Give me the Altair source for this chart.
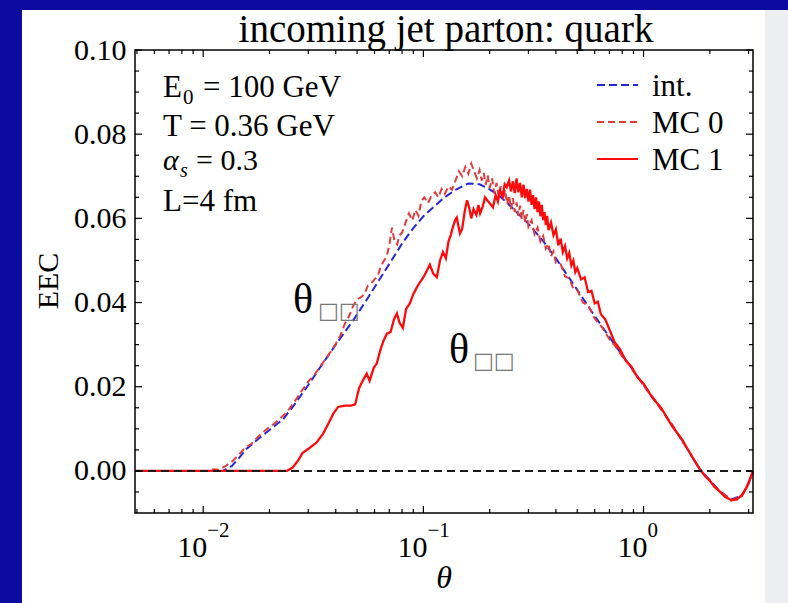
import altair as alt
import pandas as pd

# ---------------- data ----------------
title_text = "incoming jet parton: quark"
x_title = "θ"
y_title = "EEC"
series_names = ["int.", "MC 0", "MC 1"]

int_points = [
    (0.0049, 0.0), (0.0123, 0.0), (0.0135, 0.0012), (0.0145, 0.0030), (0.0157, 0.0052),
    (0.018, 0.0078), (0.02, 0.0097), (0.0231, 0.0123), (0.026, 0.0158), (0.03, 0.0204),
    (0.035, 0.0256), (0.04, 0.0300), (0.0479, 0.0357), (0.055, 0.0405), (0.065, 0.0465),
    (0.0807, 0.0543), (0.09, 0.0577), (0.1, 0.0605), (0.1228, 0.0647), (0.14, 0.0668),
    (0.16, 0.0683), (0.18, 0.0681), (0.2, 0.0669), (0.223, 0.0652), (0.25, 0.0628),
    (0.3, 0.0587), (0.35, 0.0546), (0.4, 0.0505), (0.5, 0.0430), (0.6, 0.0368),
    (0.7, 0.0318), (0.8, 0.0275), (0.9, 0.0238), (1.0, 0.0204), (1.2, 0.0148),
    (1.5, 0.0072), (1.8, 0.0004), (2.0, -0.0022), (2.2, -0.0046), (2.5, -0.0068),
    (2.8, -0.0058), (3.0, -0.0030), (3.1416, 0.0),
]

mc0_points = [
    (0.0049, 0.0), (0.0105, 0.0), (0.0112, 0.0004), (0.0118, 0.0003), (0.0125, 0.0010),
    (0.0135, 0.0022), (0.0145, 0.0038), (0.0155, 0.0055), (0.0165, 0.0064), (0.018, 0.0084),
    (0.0195, 0.0100), (0.021, 0.0112), (0.0225, 0.0126), (0.024, 0.0140), (0.026, 0.0165),
    (0.028, 0.0190), (0.030, 0.0212), (0.032, 0.0228), (0.034, 0.0248), (0.036, 0.0266),
    (0.038, 0.0284), (0.040, 0.0302), (0.042, 0.0322), (0.044, 0.0350), (0.046, 0.0368),
    (0.048, 0.0392), (0.050, 0.0408), (0.052, 0.0412), (0.054, 0.0420), (0.056, 0.0440),
    (0.058, 0.0446), (0.060, 0.0455), (0.062, 0.0462), (0.064, 0.0485), (0.066, 0.0498),
    (0.068, 0.0508), (0.070, 0.0535), (0.072, 0.0578), (0.074, 0.0545), (0.076, 0.0538),
    (0.078, 0.0560), (0.080, 0.0566), (0.083, 0.0590), (0.086, 0.0612), (0.089, 0.0595),
    (0.092, 0.0620), (0.095, 0.0606), (0.098, 0.0642), (0.101, 0.0650), (0.105, 0.0636),
    (0.109, 0.0655), (0.113, 0.0662), (0.117, 0.0650), (0.121, 0.0670), (0.125, 0.0658),
    (0.130, 0.0676), (0.135, 0.0668), (0.140, 0.0690), (0.145, 0.0712), (0.150, 0.0700),
    (0.155, 0.0722), (0.160, 0.0706), (0.165, 0.0730), (0.170, 0.0712), (0.175, 0.0695),
    (0.180, 0.0715), (0.184, 0.0690), (0.188, 0.0708), (0.192, 0.0680), (0.196, 0.0702),
    (0.200, 0.0672), (0.205, 0.0695), (0.210, 0.0660), (0.215, 0.0684), (0.220, 0.0652),
    (0.225, 0.0676), (0.230, 0.0645), (0.235, 0.0668), (0.240, 0.0634), (0.245, 0.0655),
    (0.250, 0.0622), (0.255, 0.0648), (0.260, 0.0615), (0.265, 0.0638), (0.270, 0.0606),
    (0.275, 0.0630), (0.280, 0.0598), (0.285, 0.0620), (0.290, 0.0590), (0.295, 0.0610),
    (0.30, 0.0580), (0.31, 0.0596), (0.32, 0.0562), (0.33, 0.0578), (0.34, 0.0545),
    (0.35, 0.0558), (0.36, 0.0528), (0.37, 0.0540), (0.38, 0.0510), (0.39, 0.0522),
    (0.40, 0.0494), (0.42, 0.0492), (0.44, 0.0462), (0.46, 0.0458), (0.48, 0.0432),
    (0.50, 0.0430), (0.53, 0.0400), (0.56, 0.0394), (0.60, 0.0362), (0.65, 0.0340),
    (0.70, 0.0313), (0.75, 0.0294), (0.80, 0.0272), (0.85, 0.0256), (0.90, 0.0236),
    (0.95, 0.0222), (1.0, 0.0203), (1.1, 0.0176), (1.2, 0.0146), (1.35, 0.0110),
    (1.5, 0.0070), (1.65, 0.0038), (1.8, 0.0002), (1.9, -0.0010), (2.0, -0.0024),
    (2.1, -0.0034), (2.2, -0.0048), (2.35, -0.0058), (2.5, -0.0071), (2.65, -0.0064),
    (2.8, -0.0060), (2.95, -0.0035), (3.05, -0.0019), (3.1416, 0.0),
]

mc1_points = [
    (0.0049, 0.0), (0.024, 0.0), (0.0255, 0.0008), (0.027, 0.0025), (0.0283, 0.0043),
    (0.0305, 0.0055), (0.0328, 0.0068), (0.035, 0.0088), (0.037, 0.0112), (0.039, 0.0136),
    (0.041, 0.0152), (0.044, 0.0155), (0.047, 0.0155), (0.049, 0.0158), (0.051, 0.0196),
    (0.053, 0.0214), (0.0553, 0.0231), (0.057, 0.0214), (0.0595, 0.0245), (0.0614, 0.0255),
    (0.064, 0.0290), (0.066, 0.0310), (0.0683, 0.0326), (0.071, 0.0330), (0.0735, 0.0360),
    (0.0758, 0.0374), (0.078, 0.0352), (0.0807, 0.0340), (0.0835, 0.0385), (0.0868, 0.0398),
    (0.090, 0.0420), (0.0934, 0.0436), (0.097, 0.0450), (0.1005, 0.0462), (0.1038, 0.0476),
    (0.107, 0.0490), (0.111, 0.0468), (0.1151, 0.0460), (0.119, 0.0500), (0.1228, 0.0520),
    (0.1265, 0.0505), (0.130, 0.0545), (0.1335, 0.0562), (0.1361, 0.0579), (0.1395, 0.0596),
    (0.1418, 0.0602), (0.1445, 0.0580), (0.1466, 0.0564), (0.150, 0.0575), (0.1545, 0.0620),
    (0.1579, 0.0643), (0.1615, 0.0625), (0.165, 0.0600), (0.169, 0.0622), (0.174, 0.0608),
    (0.178, 0.0632), (0.181, 0.0612), (0.186, 0.0628), (0.1905, 0.0650), (0.195, 0.0643),
    (0.201, 0.0635), (0.207, 0.0626), (0.213, 0.0655), (0.218, 0.0640), (0.223, 0.0667),
    (0.229, 0.0652), (0.234, 0.0681), (0.239, 0.0674), (0.245, 0.0690), (0.250, 0.0664),
    (0.255, 0.0688), (0.260, 0.0660), (0.265, 0.0695), (0.270, 0.0662), (0.275, 0.0684),
    (0.280, 0.0650), (0.285, 0.0680), (0.290, 0.0648), (0.295, 0.0670), (0.300, 0.0640),
    (0.305, 0.0668), (0.310, 0.0632), (0.315, 0.0655), (0.320, 0.0622), (0.325, 0.0650),
    (0.330, 0.0615), (0.335, 0.0640), (0.340, 0.0605), (0.345, 0.0632), (0.350, 0.0596),
    (0.355, 0.0615), (0.360, 0.0584), (0.365, 0.0606), (0.370, 0.0572), (0.38, 0.0590),
    (0.39, 0.0560), (0.40, 0.0574), (0.41, 0.0536), (0.42, 0.0552), (0.43, 0.0520),
    (0.44, 0.0534), (0.45, 0.0505), (0.46, 0.0518), (0.47, 0.0488), (0.48, 0.0500),
    (0.49, 0.0472), (0.50, 0.0482), (0.52, 0.0455), (0.54, 0.0460), (0.56, 0.0425),
    (0.58, 0.0428), (0.60, 0.0398), (0.62, 0.0402), (0.64, 0.0372), (0.67, 0.0360),
    (0.70, 0.0336), (0.74, 0.0305), (0.78, 0.0290), (0.83, 0.0262), (0.88, 0.0248),
    (0.94, 0.0222), (1.0, 0.0207), (1.1, 0.0173), (1.2, 0.0150), (1.35, 0.0106),
    (1.5, 0.0074), (1.65, 0.0036), (1.8, 0.0005), (1.9, -0.0012), (2.0, -0.0023),
    (2.1, -0.0038), (2.2, -0.0047), (2.35, -0.0062), (2.5, -0.0069), (2.65, -0.0068),
    (2.8, -0.0057), (2.95, -0.0038), (3.05, -0.0018), (3.1416, 0.0),
]

y_major = [0.0, 0.02, 0.04, 0.06, 0.08, 0.10]
y_minor = [-0.005, 0.005, 0.01, 0.015, 0.025, 0.03, 0.035, 0.045, 0.05, 0.055,
           0.065, 0.07, 0.075, 0.085, 0.09, 0.095]
x_major = [0.01, 0.1, 1.0]
x_major_base = ["10", "10", "10"]
x_major_exp = ["−2", "−1", "0"]
x_minor = [0.005, 0.006, 0.007, 0.008, 0.009,
           0.02, 0.03, 0.04, 0.05, 0.06, 0.07, 0.08, 0.09,
           0.2, 0.3, 0.4, 0.5, 0.6, 0.7, 0.8, 0.9, 2.0, 3.0]
zero_level = [0.0]

# ---------------- style ----------------
W, H = 618, 463
PL, PT = 135, 50
FONT = "Liberation Serif"
C_INT, C_MC0, C_MC1 = "#2626d9", "#e33b3b", "#ff0a0a"
D_INT, D_MC0 = [8, 4], [7, 4]

xs = alt.Scale(type="log", domain=[0.0049, 3.1416], nice=False)
ys = alt.Scale(domain=[-0.01, 0.10], nice=False, zero=False)
yax = alt.Axis(values=y_major, format=".2f", labelFont=FONT, labelFontSize=30,
               labelColor="black", ticks=False, domain=False, grid=False,
               title=None, labelPadding=9, zindex=2)

one = pd.DataFrame({"k": [0]})


def box(x1, x2, y1, y2, color):
    return alt.Chart(one).mark_rect(color=color).encode(
        x=alt.value(x1 - PL), x2=alt.value(x2 - PL),
        y=alt.value(y1 - PT), y2=alt.value(y2 - PT))


def line(points, color, dash, width):
    df = pd.DataFrame(points, columns=["theta", "eec"])
    kw = dict(color=color, strokeWidth=width)
    if dash:
        kw["strokeDash"] = dash
    return alt.Chart(df).mark_line(**kw).encode(
        x=alt.X("theta:Q", scale=xs, axis=None),
        y=alt.Y("eec:Q", scale=ys, axis=yax),
        order="theta:Q")


def text(s, x, y, size, **kw):
    opts = dict(font=FONT, color="black", align="left", baseline="alphabetic")
    opts.update(kw)
    return alt.Chart(one).mark_text(text=s, fontSize=size, **opts).encode(
        x=alt.value(x - PL), y=alt.value(y - PT))


layers = []
layers.append(box(22, 765, 10, 603, "white"))
layers.append(box(765, 788, 10, 603, "#eceef1"))

layers.append(line(int_points, C_INT, D_INT, 2))
layers.append(line(mc0_points, C_MC0, D_MC0, 2))
layers.append(line(mc1_points, C_MC1, None, 2.3))

# zero reference line
layers.append(alt.Chart(pd.DataFrame({"z": zero_level})).mark_rule(
    color="#1a1a1a", strokeDash=[8, 5], strokeWidth=2).encode(
    y=alt.Y("z:Q", scale=ys, axis=yax), x=alt.value(0), x2=alt.value(W)))

# frame
layers.append(alt.Chart(one).mark_rect(fill=None, stroke="black", strokeWidth=1.5).encode(
    x=alt.value(0), x2=alt.value(W), y=alt.value(0), y2=alt.value(H)))


def yticks(vals, ln):
    df = pd.DataFrame({"v": vals})
    out = []
    for a, b in [(0, ln), (W, W - ln)]:
        out.append(alt.Chart(df).mark_rule(color="black", strokeWidth=1.2).encode(
            y=alt.Y("v:Q", scale=ys, axis=yax), x=alt.value(a), x2=alt.value(b)))
    return out


def xticks(vals, ln):
    df = pd.DataFrame({"v": vals})
    out = []
    for a, b in [(H, H - ln), (0, ln)]:
        out.append(alt.Chart(df).mark_rule(color="black", strokeWidth=1.2).encode(
            x=alt.X("v:Q", scale=xs, axis=None), y=alt.value(a), y2=alt.value(b)))
    return out


layers += yticks(y_major, 7) + yticks(y_minor, 4)
layers += xticks(x_major, 7) + xticks(x_minor, 4)

# x tick labels: 10^k
xl = pd.DataFrame({"t": x_major, "b": x_major_base, "e": x_major_exp})
layers.append(alt.Chart(xl).mark_text(font=FONT, fontSize=30, align="right",
                                      baseline="alphabetic", dx=4, color="black").encode(
    x=alt.X("t:Q", scale=xs, axis=None), y=alt.value(557 - PT), text="b:N"))
layers.append(alt.Chart(xl).mark_text(font=FONT, fontSize=21, align="left",
                                      baseline="alphabetic", dx=4, color="black").encode(
    x=alt.X("t:Q", scale=xs, axis=None), y=alt.value(537 - PT), text="e:N"))

# axis titles and chart title
layers.append(text(x_title, 444, 588, 32, align="center", fontStyle="italic"))
layers.append(text(y_title, 49, 281, 30, align="center", baseline="middle", angle=270))
layers.append(text(title_text, 446, 42, 39, align="center"))

# parameter annotations
layers.append(text("E", 163, 97, 31))
layers.append(text("0", 183, 104, 21))
layers.append(text("= 100 GeV", 203, 97, 31))
layers.append(text("T = 0.36 GeV", 163, 136, 31))
layers.append(text("α", 163, 170, 30, fontStyle="italic"))
layers.append(text("s", 180, 177, 20, fontStyle="italic"))
layers.append(text("= 0.3", 196, 170, 30))
layers.append(text("L=4 fm", 163, 211, 31))

# θ labels with missing-glyph boxes
layers.append(text("θ", 293, 313, 42))
layers.append(text("□□", 318, 318, 22, font="DejaVu Sans", color="#777777"))
layers.append(text("θ", 449, 363, 42))
layers.append(text("□□", 473, 368, 22, font="DejaVu Sans", color="#777777"))

# legend (manual)
leg_rows = [(85, C_INT, D_INT), (122, C_MC0, D_MC0), (159, C_MC1, None)]
for (yy, col, dash), name in zip(leg_rows, series_names):
    kw = dict(color=col, strokeWidth=2)
    if dash:
        kw["strokeDash"] = dash
    layers.append(alt.Chart(one).mark_rule(**kw).encode(
        x=alt.value(597 - PL), x2=alt.value(638 - PL), y=alt.value(yy - PT)))
    layers.append(text(name, 652, yy + 11, 31))

chart = alt.layer(*layers).properties(
    width=W, height=H,
    background="#0b0ba0",
    padding={"left": PL, "top": PT, "right": 788 - PL - W, "bottom": 603 - PT - H},
    autosize=alt.AutoSizeParams(type="none"),
).configure_view(stroke=None)

chart.save("out.html", embed_options={"renderer": "svg", "actions": False})
